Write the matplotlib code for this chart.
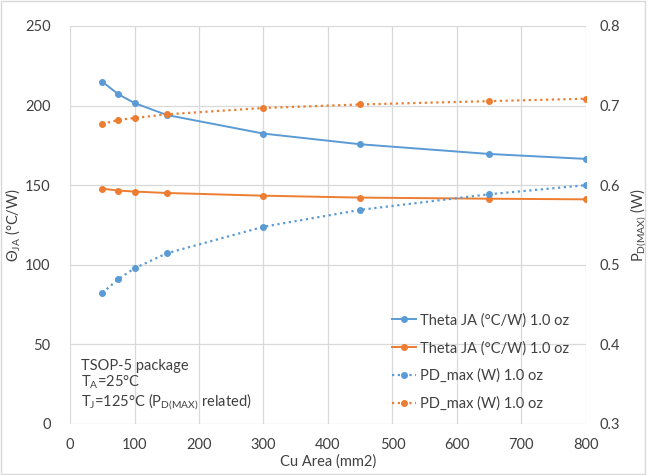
"""
Theta JA and PD(max) versus copper area for a TSOP-5 package.
"""
import matplotlib
matplotlib.use("Agg")
import matplotlib.pyplot as plt
from matplotlib.patches import Rectangle

# data
cu_area = [50, 75, 100, 150, 300, 450, 650, 800]
theta_blue = [215.0, 207.1, 201.6, 194.1, 182.4, 175.7, 169.6, 166.5]
theta_orange = [147.8, 146.6, 146.0, 145.1, 143.4, 142.2, 141.5, 141.1]
pd_blue = [0.4646, 0.482, 0.4956, 0.5144, 0.5478, 0.569, 0.5886, 0.600]
pd_orange = [0.677, 0.682, 0.6844, 0.689, 0.697, 0.7014, 0.7056, 0.7086]

x_ticks = [0, 100, 200, 300, 400, 500, 600, 700, 800]
left_ticks = [0, 50, 100, 150, 200, 250]
right_ticks = [0.3, 0.4, 0.5, 0.6, 0.7, 0.8]

BLUE = "#5B9BD5"
ORANGE = "#ED7D31"
TEXT = "#404040"
GRID = "#D9D9D9"

plt.rcParams["font.family"] = ["Lato", "DejaVu Sans"]
plt.rcParams["mathtext.fontset"] = "custom"
plt.rcParams["mathtext.rm"] = "Lato"
plt.rcParams["mathtext.it"] = "Lato"
plt.rcParams["mathtext.bf"] = "Lato"

fig = plt.figure(figsize=(6.5, 4.75), dpi=100)
ax = fig.add_axes([0.1077, 0.1074, 0.7938, 0.8379])
ax2 = ax.twinx()

dot = (0, (1, 1.6))
h1, = ax.plot(cu_area, theta_blue, color=BLUE, lw=1.4, marker="o", ms=4,
              label="Theta JA (°C/W) 1.0 oz")
h2, = ax.plot(cu_area, theta_orange, color=ORANGE, lw=1.4, marker="o", ms=4,
              label="Theta JA (°C/W) 1.0 oz")
h3, = ax2.plot(cu_area, pd_blue, color=BLUE, lw=1.6, ls=dot, marker="o", ms=4,
               label="PD_max (W) 1.0 oz")
h4, = ax2.plot(cu_area, pd_orange, color=ORANGE, lw=1.6, ls=dot, marker="o", ms=4,
               label="PD_max (W) 1.0 oz")

ax.set_xlim(0, 800)
ax.set_ylim(0, 250)
ax2.set_ylim(0.3, 0.8)
ax.set_xticks(x_ticks)
ax.set_yticks(left_ticks)
ax2.set_yticks(right_ticks)
ax2.set_yticklabels([f"{v:.1f}" for v in right_ticks])

ax.grid(True, color=GRID, lw=0.9)
ax.set_axisbelow(True)
for a in (ax, ax2):
    for s in a.spines.values():
        s.set_visible(False)
    a.tick_params(length=0, labelsize=10.5, labelcolor=TEXT)
ax.tick_params(axis="y", pad=14)
ax.tick_params(axis="x", pad=10)
ax2.tick_params(axis="y", pad=10)

ax.set_xlabel("Cu Area (mm2)", fontsize=10.5, color=TEXT, labelpad=2)
ax.set_ylabel(r"Θ$_{\mathrm{JA}}$ (°C/W)", fontsize=10.5, color=TEXT, labelpad=2)
ax2.set_ylabel(r"P$_{\mathrm{D(MAX)}}$ (W)", fontsize=10.5, color=TEXT,
               rotation=90, labelpad=6)

leg = ax.legend(handles=[h1, h2, h3, h4], loc="lower left",
                bbox_to_anchor=(0.599, 0.0), frameon=False, fontsize=10.5,
                handlelength=1.6, handletextpad=0.3, labelspacing=0.92,
                labelcolor=TEXT)

ax.text(0.022, 0.03,
        "TSOP-5 package\nT$_{\\mathrm{A}}$=25°C\n"
        "T$_{\\mathrm{J}}$=125°C (P$_{\\mathrm{D(MAX)}}$ related)",
        transform=ax.transAxes, fontsize=10.5, color=TEXT, va="bottom",
        ha="left", linespacing=1.05)

fig.patches.append(Rectangle((0.002, 0.003), 0.99, 0.994, transform=fig.transFigure,
                             fill=False, edgecolor=GRID, lw=1.0))

fig.savefig("out.png", dpi=100)
